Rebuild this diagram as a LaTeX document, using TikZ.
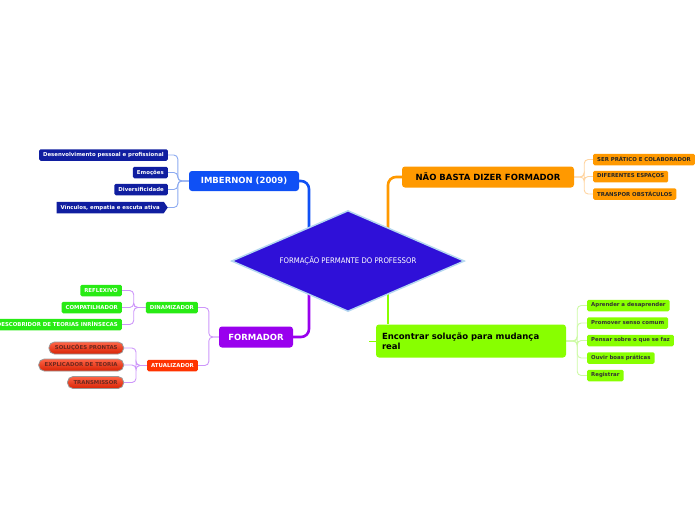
\documentclass[tikz,border=0pt]{standalone}
\usepackage{fontspec}
\setmainfont{DejaVu Sans}
\newfontfamily\diafont{DejaVu Sans Condensed}
\usetikzlibrary{shapes.geometric,shapes.symbols,backgrounds}

\definecolor{diafill}{RGB}{47,16,216}
\definecolor{diaedge}{RGB}{180,215,240}
\definecolor{imbblue}{RGB}{15,80,245}
\definecolor{imbnavy}{RGB}{16,30,160}
\definecolor{imbsoft}{RGB}{140,170,240}
\definecolor{naoorange}{RGB}{255,153,0}
\definecolor{naosoft}{RGB}{255,212,160}
\definecolor{formpurple}{RGB}{153,0,238}
\definecolor{formsoft}{RGB}{205,150,250}
\definecolor{dingreen}{RGB}{40,235,20}
\definecolor{atured}{RGB}{255,51,0}
\definecolor{pilltop}{RGB}{255,100,70}
\definecolor{pillbot}{RGB}{215,35,5}
\definecolor{pilltext}{RGB}{110,40,30}
\definecolor{encgreen}{RGB}{136,255,0}
\definecolor{encsoft}{RGB}{205,250,165}

\newcommand{\topicfont}{\fontsize{8.5}{10}\selectfont\bfseries}
\newcommand{\leaffont}{\fontsize{5.4}{6.4}\selectfont\bfseries}

\begin{document}
\begin{tikzpicture}[x=1pt,y=-1pt,
  topic/.style={rounded corners=3pt,inner sep=0pt,font=\topicfont},
  leaf/.style={rounded corners=1.5pt,inner xsep=4pt,inner ysep=0pt,minimum height=11.5pt,font=\leaffont},
  pill/.style={rounded corners=5.5pt,inner xsep=6pt,inner ysep=0pt,minimum height=12pt,font=\leaffont,
    top color=pilltop,bottom color=pillbot,draw=gray!80,line width=0.8pt,text=pilltext},
  mainline/.style={line width=2.6pt,rounded corners=8pt},
  subline/.style={line width=0.9pt,rounded corners=4pt}]
\useasboundingbox (0,0) rectangle (696,520);

% centre
\node[diamond,aspect=2.31,fill=diafill,draw=diaedge,line width=1.5pt,inner sep=0pt,
  minimum width=233pt,minimum height=101pt,text=white,
  font=\diafont\fontsize{7.7}{8.5}\selectfont] (dia) at (348,261) {FORMAÇÃO PERMANTE DO PROFESSOR};
\coordinate (dimb) at (309,250);
\coordinate (dnao) at (388,250);
\coordinate (dform) at (309,272);
\coordinate (denc) at (388,272);

% topics
\node[topic,fill=imbblue,text=white,minimum width=110pt,minimum height=20pt] (imb) at (244,181) {IMBERNON (2009)};
\node[topic,fill=naoorange,text=black,minimum width=172pt,minimum height=21pt] (nao) at (488,177) {NÃO BASTA DIZER FORMADOR};
\node[topic,fill=formpurple,text=white,minimum width=74pt,minimum height=21pt] (form) at (256,337) {FORMADOR};
\node[topic,fill=encgreen,text=black,minimum width=190pt,minimum height=33pt,
  text width=178pt,align=left] (enc) at (471,341) {Encontrar solução para mudança\\real};

% IMBERNON
\node[leaf,fill=imbnavy,text=white,anchor=east] (i1) at (168,155) {Desenvolvimento pessoal e profissional};
\node[leaf,fill=imbnavy,text=white,anchor=east] (i2) at (168,172.5) {Emoções};
\node[leaf,fill=imbnavy,text=white,anchor=east] (i3) at (168,189.5) {Diversificidade};
\node[leaf,signal,signal to=east,signal pointer angle=110,rounded corners=0pt,
  fill=imbnavy,text=white,anchor=east] (i4) at (168,207.5) {Vínculos, empatia e escuta ativa};

% NAO BASTA
\node[leaf,fill=naoorange,text=black!85,anchor=west] (n1) at (593,159.5) {SER PRÁTICO E COLABORADOR};
\node[leaf,fill=naoorange,text=black!85,anchor=west] (n2) at (593,176.5) {DIFERENTES ESPAÇOS};
\node[leaf,fill=naoorange,text=black!85,anchor=west] (n3) at (593,194) {TRANSPOR OBSTÁCULOS};

% FORMADOR
\node[leaf,fill=dingreen,text=white,anchor=east] (din) at (198,307.5) {DINAMIZADOR};
\node[leaf,fill=atured,text=white,anchor=east] (atu) at (198,365.5) {ATUALIZADOR};
\node[leaf,fill=dingreen,text=white,anchor=east] (d1) at (122,290.5) {REFLEXIVO};
\node[leaf,fill=dingreen,text=white,anchor=east] (d2) at (122,307.5) {COMPATILHADOR};
\node[leaf,fill=dingreen,text=white,anchor=east] (d3) at (122,324.5) {DESCOBRIDOR DE TEORIAS INRÍNSECAS};
\node[pill,anchor=east] (a1) at (124,348) {SOLUÇÕES PRONTAS};
\node[pill,anchor=east] (a2) at (124,365) {EXPLICADOR DE TEORIA};
\node[pill,anchor=east] (a3) at (124,382.5) {TRANSMISSOR};

% ENCONTRAR
\node[leaf,fill=encgreen,text=black!80,anchor=west] (e1) at (587,305.5) {Aprender a desaprender};
\node[leaf,fill=encgreen,text=black!80,anchor=west] (e2) at (587,323) {Promover senso comum};
\node[leaf,fill=encgreen,text=black!80,anchor=west] (e3) at (587,340.5) {Pensar sobre o que se faz};
\node[leaf,fill=encgreen,text=black!80,anchor=west] (e4) at (587,358) {Ouvir boas práticas};
\node[leaf,fill=encgreen,text=black!80,anchor=west] (e5) at (587,375.5) {Registrar};

\begin{pgfonlayer}{background}
\draw[mainline,imbblue] (imb.east) -| (dimb);
\draw[mainline,naoorange] (nao.west) -| (dnao);
\draw[mainline,formpurple] (form.east) -| (dform);
\draw[mainline,encgreen] (denc) -- (denc |- enc.north);
\draw[subline,encgreen] (enc.west) -- ++(-7,0);
\foreach \n in {i1,i2,i3,i4}
  \draw[subline,imbsoft] (imb.west) -- ++(-11,0) |- (\n.east);
\foreach \n in {n1,n2,n3}
  \draw[subline,naosoft] (nao.east) -- ++(10,0) |- (\n.west);
\foreach \n in {din,atu}
  \draw[subline,formsoft] (form.west) -- ++(-10,0) |- (\n.east);
\foreach \n in {d1,d2,d3}
  \draw[subline,formsoft] (din.west) -- ++(-12,0) |- (\n.east);
\foreach \n in {a1,a2,a3}
  \draw[subline,formsoft] (atu.west) -- ++(-11,0) |- (\n.east);
\foreach \n in {e1,e2,e3,e4,e5}
  \draw[subline,encsoft] (enc.east) -- ++(11,0) |- (\n.west);
\end{pgfonlayer}
\end{tikzpicture}
\end{document}
